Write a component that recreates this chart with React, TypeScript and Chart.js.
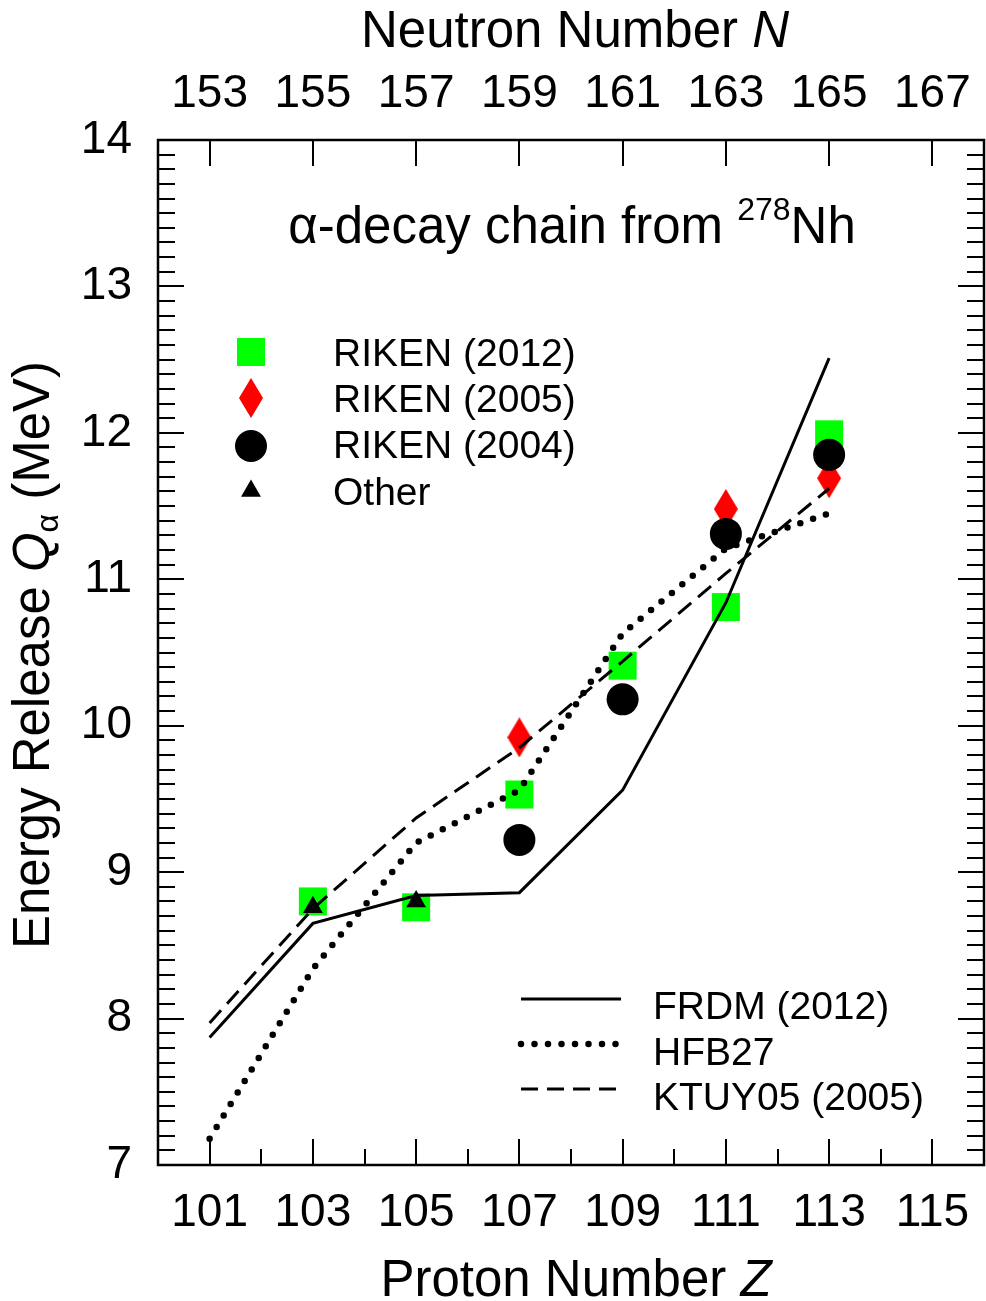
import React, { useEffect, useRef } from 'react';
import { Chart, registerables } from 'chart.js';

Chart.register(...registerables);

// ---- data ----
const protonZ = [101, 103, 105, 107, 109, 111, 113];
const frdm2012 = [7.87, 8.65, 8.84, 8.86, 9.56, 10.84, 12.51];
const hfb27 = [7.18, 8.34, 9.2, 9.56, 10.63, 11.21, 11.45];
const ktuy05 = [7.97, 8.75, 9.37, 9.85, 10.44, 11.04, 11.62];

const riken2012Z = [103, 105, 107, 109, 111, 113];
const riken2012Q = [8.8, 8.76, 9.53, 10.41, 10.81, 11.99];
const riken2005Z = [107, 111, 113];
const riken2005Q = [9.92, 11.48, 11.69];
const riken2004Z = [107, 109, 111, 113];
const riken2004Q = [9.22, 10.18, 11.31, 11.85];
const otherZ = [103, 105];
const otherQ = [8.76, 8.8];

const protonTicks = [101, 103, 105, 107, 109, 111, 113, 115];
const neutronTickLabels = ['153', '155', '157', '159', '161', '163', '165', '167'];
const energyTicks = [7, 8, 9, 10, 11, 12, 13, 14];

const FONT = '"Liberation Sans", Arial, Helvetica, sans-serif';

const toPts = (xs: number[], ys: number[]) => xs.map((x, i) => ({ x, y: ys[i] }));

type Seg = { text: string; size: number; italic?: boolean; dy?: number };

function segFont(s: Seg) {
  return `${s.italic ? 'italic ' : ''}${s.size}px ${FONT}`;
}

function drawSegs(ctx: CanvasRenderingContext2D, segs: Seg[], x: number, y: number, align: 'center' | 'left') {
  let total = 0;
  const widths = segs.map((s) => {
    ctx.font = segFont(s);
    const w = ctx.measureText(s.text).width;
    total += w;
    return w;
  });
  let cur = align === 'center' ? x - total / 2 : x;
  ctx.textAlign = 'left';
  ctx.textBaseline = 'alphabetic';
  segs.forEach((s, i) => {
    ctx.font = segFont(s);
    ctx.fillText(s.text, cur, y + (s.dy || 0));
    cur += widths[i];
  });
}

function makeDiamond() {
  const c = document.createElement('canvas');
  c.width = 24;
  c.height = 40;
  const g = c.getContext('2d')!;
  g.fillStyle = '#ff0000';
  g.beginPath();
  g.moveTo(12, 0);
  g.lineTo(24, 20);
  g.lineTo(12, 40);
  g.lineTo(0, 20);
  g.closePath();
  g.fill();
  return c;
}

const zeroPadX = (s: any) => {
  s.paddingLeft = 0;
  s.paddingRight = 0;
};

const decorPlugin = {
  id: 'decor',
  afterDatasetsDraw(chart: any) {
    const ctx: CanvasRenderingContext2D = chart.ctx;
    const { left, right, top, bottom } = chart.chartArea;
    const xs = chart.scales.x;
    const ys = chart.scales.y;
    ctx.save();
    ctx.strokeStyle = '#000';
    ctx.lineWidth = 2;
    ctx.beginPath();
    for (let z = 101; z <= 115; z++) {
      const px = Math.round(xs.getPixelForValue(z));
      const major = z % 2 === 1;
      const len = major ? 26 : 16;
      ctx.moveTo(px, bottom);
      ctx.lineTo(px, bottom - len);
      if (major) {
        ctx.moveTo(px, top);
        ctx.lineTo(px, top + 26);
      }
    }
    for (let k = 1; k < 70; k++) {
      const v = 7 + k / 10;
      const py = Math.round(ys.getPixelForValue(v));
      const major = k % 10 === 0;
      const len = major ? 26 : 17;
      ctx.moveTo(left, py);
      ctx.lineTo(left + len, py);
      ctx.moveTo(right, py);
      ctx.lineTo(right - len, py);
    }
    ctx.stroke();
    ctx.lineWidth = 2.5;
    ctx.strokeRect(left, top, right - left, bottom - top);
    ctx.restore();
  },
  afterDraw(chart: any) {
    const ctx: CanvasRenderingContext2D = chart.ctx;
    const ds = chart.data.datasets;
    ctx.save();
    ctx.fillStyle = '#000';

    drawSegs(ctx, [{ text: 'Neutron Number ', size: 51 }, { text: 'N', size: 51, italic: true }], 575, 47, 'center');
    drawSegs(ctx, [{ text: 'Proton Number ', size: 51 }, { text: 'Z', size: 51, italic: true }], 576, 1296, 'center');
    ctx.save();
    ctx.translate(49, 655);
    ctx.rotate(-Math.PI / 2);
    drawSegs(
      ctx,
      [
        { text: 'Energy Release ', size: 51 },
        { text: 'Q', size: 51, italic: true },
        { text: 'α', size: 32, dy: 9 },
        { text: ' (MeV)', size: 51 },
      ],
      0,
      0,
      'center'
    );
    ctx.restore();

    drawSegs(
      ctx,
      [
        { text: 'α-decay chain from ', size: 51 },
        { text: '278', size: 32, dy: -23 },
        { text: 'Nh', size: 51 },
      ],
      572,
      243,
      'center'
    );

    const mx = 251;
    const markerRows = [
      { ds: ds[6], y: 352, base: 366 },
      { ds: ds[5], y: 398, base: 412 },
      { ds: ds[4], y: 446, base: 458 },
      { ds: ds[3], y: 491, base: 505 },
    ];
    markerRows.forEach((r) => {
      const d = r.ds;
      ctx.fillStyle = d.backgroundColor;
      const st = d.pointStyle;
      if (st === 'rect') {
        const h = d.pointRadius * Math.SQRT1_2;
        ctx.fillRect(mx - h, r.y - h, 2 * h, 2 * h);
      } else if (st === 'circle') {
        ctx.beginPath();
        ctx.arc(mx, r.y, d.pointRadius, 0, Math.PI * 2);
        ctx.fill();
      } else if (st === 'triangle') {
        const rad = d.pointRadius;
        ctx.beginPath();
        ctx.moveTo(mx, r.y - rad);
        ctx.lineTo(mx + rad * Math.sin((2 * Math.PI) / 3), r.y + rad / 2);
        ctx.lineTo(mx - rad * Math.sin((2 * Math.PI) / 3), r.y + rad / 2);
        ctx.closePath();
        ctx.fill();
      } else if (st instanceof HTMLCanvasElement) {
        ctx.drawImage(st, mx - st.width / 2, r.y - st.height / 2);
      }
      ctx.fillStyle = '#000';
      drawSegs(ctx, [{ text: d.label, size: 39 }], 333, r.base, 'left');
    });

    const lineRows = [
      { ds: ds[0], y: 999, base: 1019 },
      { ds: ds[1], y: 1044, base: 1065 },
      { ds: ds[2], y: 1089, base: 1110 },
    ];
    lineRows.forEach((r) => {
      const d = r.ds;
      ctx.save();
      ctx.strokeStyle = d.borderColor;
      ctx.lineWidth = d.borderWidth;
      ctx.lineCap = d.borderCapStyle || 'butt';
      ctx.setLineDash(d.borderDash || []);
      ctx.beginPath();
      ctx.moveTo(521, r.y);
      ctx.lineTo(621, r.y);
      ctx.stroke();
      ctx.restore();
      ctx.fillStyle = '#000';
      drawSegs(ctx, [{ text: d.label, size: 39 }], 653, r.base, 'left');
    });
    ctx.restore();
  },
};

export default function App() {
  const ref = useRef<HTMLCanvasElement>(null);
  useEffect(() => {
    if (!ref.current) return;
    const diamond = makeDiamond();
    const tickFont = { family: FONT, size: 46 };
    const chart = new Chart(ref.current, {
      type: 'scatter',
      data: {
        datasets: [
          {
            label: 'FRDM (2012)',
            data: toPts(protonZ, frdm2012),
            showLine: true,
            borderColor: '#000',
            borderWidth: 3,
            pointRadius: 0,
            tension: 0,
            order: 0,
          },
          {
            label: 'HFB27',
            data: toPts(protonZ, hfb27),
            showLine: true,
            borderColor: '#000',
            borderWidth: 6.5,
            borderDash: [0, 13.5],
            borderCapStyle: 'round',
            pointRadius: 0,
            tension: 0,
            order: 0,
          },
          {
            label: 'KTUY05 (2005)',
            data: toPts(protonZ, ktuy05),
            showLine: true,
            borderColor: '#000',
            borderWidth: 3,
            borderDash: [17, 9],
            pointRadius: 0,
            tension: 0,
            order: 0,
          },
          {
            label: 'Other',
            data: toPts(otherZ, otherQ),
            pointStyle: 'triangle',
            pointRadius: 11.5,
            backgroundColor: '#000',
            borderWidth: 0,
            order: 1,
          },
          {
            label: 'RIKEN (2004)',
            data: toPts(riken2004Z, riken2004Q),
            pointStyle: 'circle',
            pointRadius: 16,
            backgroundColor: '#000',
            borderWidth: 0,
            order: 2,
          },
          {
            label: 'RIKEN (2005)',
            data: toPts(riken2005Z, riken2005Q),
            pointStyle: diamond,
            pointRadius: 20,
            backgroundColor: '#ff0000',
            borderWidth: 0,
            order: 3,
          },
          {
            label: 'RIKEN (2012)',
            data: toPts(riken2012Z, riken2012Q),
            pointStyle: 'rect',
            pointRadius: 19.8,
            backgroundColor: '#00ff00',
            borderWidth: 0,
            order: 4,
          },
        ] as any,
      },
      options: {
        responsive: false,
        animation: false,
        devicePixelRatio: 1,
        events: [],
        layout: { autoPadding: false, padding: { left: 0, right: 2, top: 0, bottom: 0 } },
        plugins: { legend: { display: false }, tooltip: { enabled: false }, title: { display: false } },
        scales: {
          x: {
            type: 'linear',
            position: 'bottom',
            min: 100,
            max: 116,
            afterBuildTicks: (s: any) => {
              s.ticks = protonTicks.map((v) => ({ value: v }));
            },
            afterFit: (s: any) => {
              s.height = 136;
              zeroPadX(s);
            },
            ticks: { font: tickFont, color: '#000', padding: 21, autoSkip: false, maxRotation: 0, callback: (v: any) => String(v) },
            grid: { display: false, drawTicks: false },
            border: { display: false },
          },
          xTop: {
            type: 'linear',
            axis: 'x',
            position: 'top',
            min: 100,
            max: 116,
            afterBuildTicks: (s: any) => {
              s.ticks = protonTicks.map((v) => ({ value: v }));
            },
            afterFit: (s: any) => {
              s.height = 140;
              zeroPadX(s);
            },
            ticks: {
              font: tickFont,
              color: '#000',
              padding: 18,
              autoSkip: false,
              maxRotation: 0,
              callback: (_v: any, i: number) => neutronTickLabels[i],
            },
            grid: { display: false, drawTicks: false },
            border: { display: false },
          },
          y: {
            type: 'linear',
            position: 'left',
            min: 7,
            max: 14,
            afterBuildTicks: (s: any) => {
              s.ticks = energyTicks.map((v) => ({ value: v }));
            },
            afterFit: (s: any) => {
              s.width = 158;
              s.paddingTop = 0;
              s.paddingBottom = 0;
            },
            ticks: { font: tickFont, color: '#000', padding: 26, callback: (v: any) => String(v) },
            grid: { display: false, drawTicks: false },
            border: { display: false },
          },
        },
      } as any,
      plugins: [decorPlugin as any],
    });
    return () => chart.destroy();
  }, []);
  return (
    <div style={{ position: 'absolute', left: 0, top: 0, width: 986, height: 1301, background: '#fff' }}>
      <canvas ref={ref} width={986} height={1301} style={{ display: 'block', width: 986, height: 1301 }} />
    </div>
  );
}
